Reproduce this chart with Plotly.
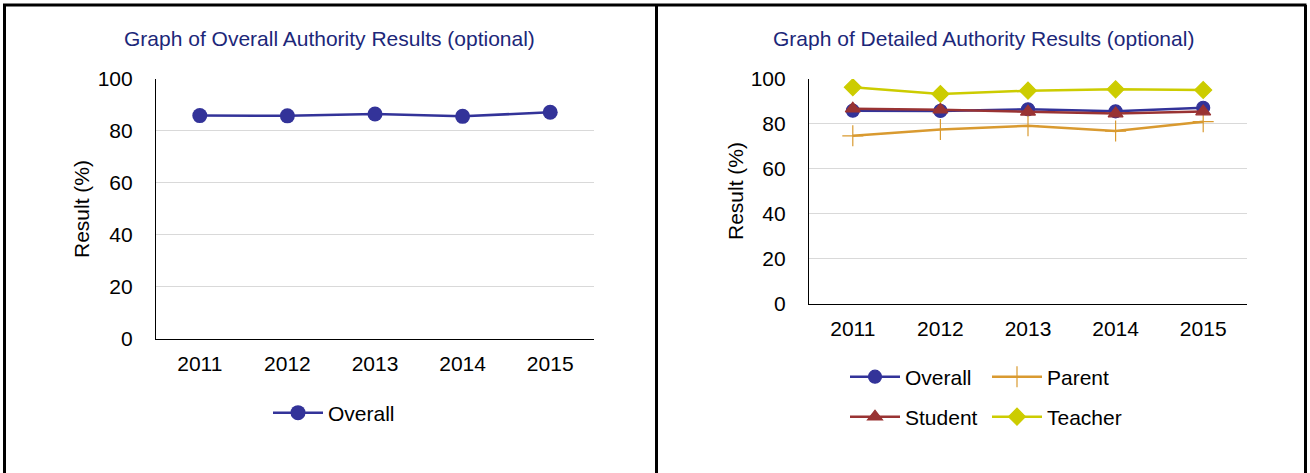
import plotly.graph_objects as go

years = ['2011', '2012', '2013', '2014', '2015']
overall = [85.9, 85.8, 86.5, 85.6, 87.2]
parent = [74.7, 77.5, 79.2, 76.8, 81.0]
student = [86.8, 86.3, 85.4, 84.6, 85.5]
teacher = [96.3, 93.3, 94.8, 95.4, 95.1]

W, H = 1310, 473
FONT = 'Liberation Sans, Arial, sans-serif'
FS = 21
TITLE_COL = '#1C2779'


def px(x):
    return x / W


def py(y):
    return 1 - y / H


fig = go.Figure()

# left panel
fig.add_trace(go.Scatter(x=years, y=overall, name='Overall', mode='lines+markers',
                         line=dict(color='#333399', width=2.5),
                         marker=dict(symbol='circle', size=15, color='#333399'),
                         xaxis='x', yaxis='y', legend='legend', showlegend=True))

# right panel
series = [
    ('Overall', overall, '#333399', 'circle', 13, 'legend2'),
    ('Parent', parent, '#D99A30', 'cross-thin', 15, 'legend2'),
    ('Student', student, '#993333', 'triangle-up', 13, 'legend3'),
    ('Teacher', teacher, '#CCCC00', 'diamond', 13, 'legend3'),
]
for name, vals, col, sym, size, leg in series:
    fig.add_trace(go.Scatter(x=years, y=vals, name=name, mode='lines+markers',
                             line=dict(color=col, width=2.5),
                             marker=dict(symbol=sym, size=size, color=col,
                                         line=dict(color=col, width=1.2)),
                             xaxis='x2', yaxis='y2', legend=leg, showlegend=True))

xcommon = dict(showline=True, linecolor='black', linewidth=1.2, ticks='',
               type='category', range=[-0.5, 4.5], showgrid=False, ticklabelstandoff=6,
               tickfont=dict(family=FONT, size=FS, color='black'))
ycommon = dict(showline=True, linecolor='black', linewidth=1.2, ticks='',
               range=[0, 100], dtick=20, showgrid=True, gridcolor='#D9D9D9',
               gridwidth=1, zeroline=False, ticklabelstandoff=18,
               tickfont=dict(family=FONT, size=FS, color='black'))
legcommon = dict(orientation='h', yanchor='middle', xanchor='left',
                 font=dict(family=FONT, size=FS, color='black'), itemwidth=50,
                 bgcolor='rgba(0,0,0,0)')

fig.update_layout(
    width=W, height=H,
    margin=dict(l=0, r=0, t=0, b=0, autoexpand=False),
    paper_bgcolor='white', plot_bgcolor='white',
    font=dict(family=FONT, color='black'),
    showlegend=True,
    xaxis=dict(domain=[px(156), px(594)], anchor='y', **xcommon),
    yaxis=dict(domain=[py(338.5), py(79)], anchor='x', **ycommon),
    xaxis2=dict(domain=[px(809), px(1247)], anchor='y2', **xcommon),
    yaxis2=dict(domain=[py(303.5), py(79)], anchor='x2', **ycommon),
    legend=dict(x=px(268), y=py(413), **legcommon),
    legend2=dict(x=px(845), y=py(377), entrywidth=77, **legcommon),
    legend3=dict(x=px(845), y=py(417), entrywidth=77, **legcommon),
)

# titles and y-axis labels
for x, text in [(330, 'Graph of Overall Authority Results (optional)'),
                (983, 'Graph of Detailed Authority Results (optional)')]:
    fig.add_annotation(x=px(x), y=py(38), xref='paper', yref='paper', text=text,
                       xanchor='center', yanchor='middle', showarrow=False,
                       font=dict(family=FONT, size=FS, color=TITLE_COL))
for x, y in [(81, 209), (735, 191)]:
    fig.add_annotation(x=px(x), y=py(y), xref='paper', yref='paper', text='Result (%)',
                       textangle=-90, xanchor='center', yanchor='middle', showarrow=False,
                       font=dict(family=FONT, size=FS, color='black'))

# panel borders
border = dict(type='line', xref='paper', yref='paper', line=dict(color='black', width=3))
fig.add_shape(x0=px(3), x1=px(1306.5), y0=py(5), y1=py(5), **border)
for x in [4.5, 656.5, 1305.5]:
    fig.add_shape(x0=px(x), x1=px(x), y0=py(5), y1=0, **border)

fig.write_html('out.html', config={'displayModeBar': False},
               post_script="document.body.style.margin='0';"
                           "document.documentElement.style.overflow='hidden';")
